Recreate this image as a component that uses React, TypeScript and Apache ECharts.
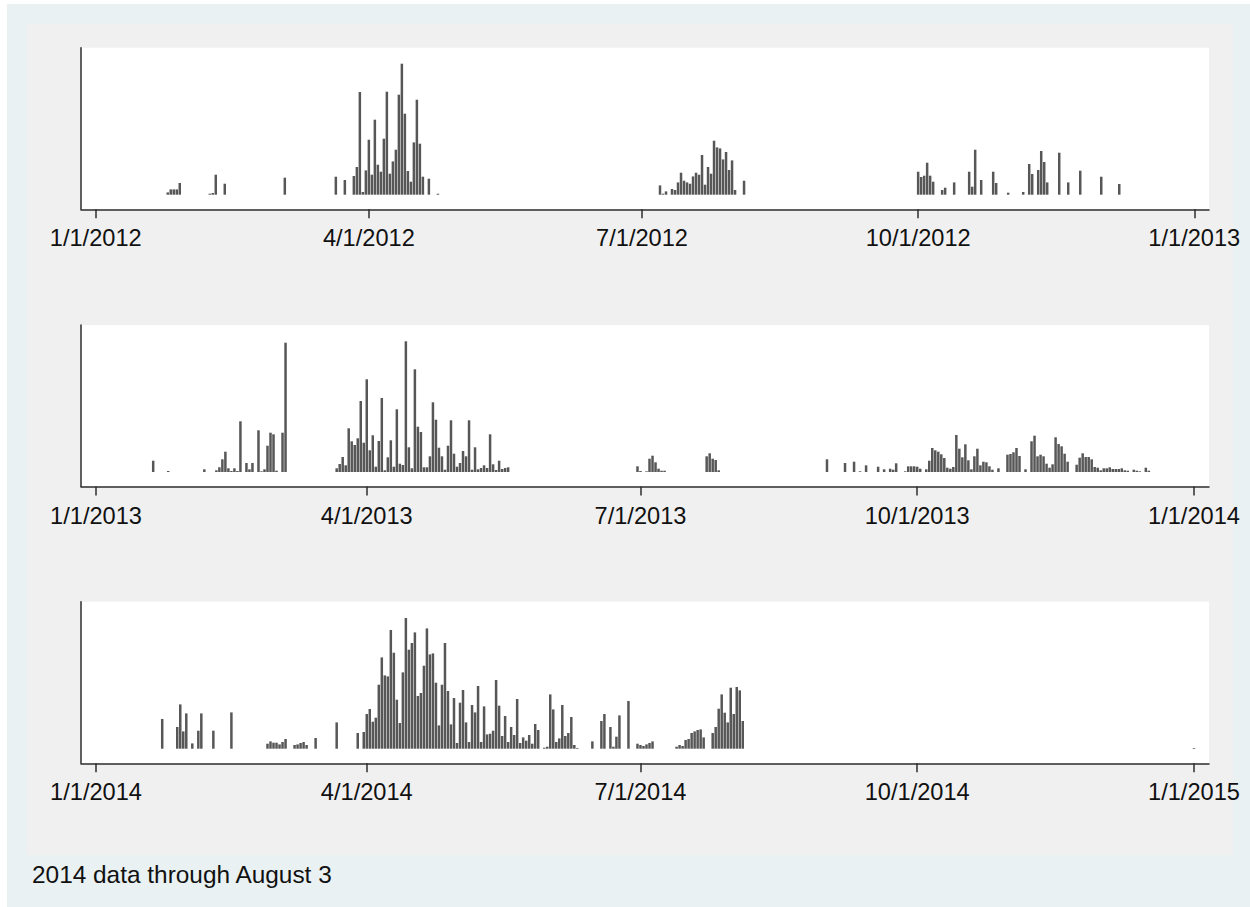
import React, { useEffect, useRef } from "react";
import * as echarts from "echarts";

// ---- Data (day index from Jan 1 of each year; bar height in relative units) ----
const days2012 = [24,25,26,27,28,38,39,40,43,63,80,83,86,87,88,89,90,91,92,93,94,95,96,97,98,99,100,101,102,103,104,105,106,107,108,109,111,114,
  188,189,190,192,193,194,195,196,197,198,199,200,201,202,203,204,205,206,207,208,209,210,211,212,213,216,
  274,275,276,277,278,279,282,283,286,291,292,293,295,299,300,304,309,311,312,314,315,316,317,321,324,328,335,341];
const values2012 = [2.3,5.3,5.3,5.3,11.7,1,1.7,20,11,17,18,14.7,18.7,27.7,102.7,2.7,24.3,55,20,75,30,23,56,103,21,33.3,45,100,131,81,23.7,13,52.3,95,51,18,16,1,
  9.3,1,3.3,5.7,4.7,12.3,22,14,12.3,11,18.3,22,20,39.7,10,27.7,21,54,47.3,46.3,35.3,42.7,24.7,34.3,4.7,14,
  23,17.7,19,32,19,13,4.7,7,12.3,23,8,45,14.7,23,11.7,2,2.7,30.7,20.7,24.7,43.7,32.7,12.3,42,12.3,24,18,10.7];

const days2013 = [19,24,36,40,41,42,43,44,45,46,47,48,50,51,52,54,55,56,57,58,59,60,62,63,
  80,81,82,83,84,85,86,87,88,89,90,91,92,93,94,95,96,97,98,99,100,101,102,103,104,105,106,107,108,109,110,111,112,113,114,115,116,117,118,119,120,121,122,123,124,125,126,127,128,129,130,131,132,133,134,135,136,137,
  180,181,183,184,185,186,187,188,189,203,204,205,206,207,
  243,249,252,254,256,260,262,264,265,266,269,270,271,272,273,274,276,277,278,279,280,281,282,283,284,285,286,287,288,289,290,291,292,293,294,295,296,297,298,300,303,304,305,306,307,309,311,312,313,314,315,316,317,318,319,320,321,322,323,326,327,328,329,330,331,332,333,334,335,336,337,338,339,340,341,342,343,345,346,347,349,350];
const values2013 = [11.3,1,2.7,1.7,4.7,12.7,20.3,3.7,1,3.7,1,50.7,9,2.7,9,41.7,0.7,2.7,26.3,39.3,37.7,1.3,39.3,129.3,
  3.7,8,15,6.7,43.7,30.7,27,33.7,71,29.3,92.7,21.7,36.7,5.3,31,74,1.7,14.7,31.7,5.3,62.7,8.3,7,130.7,24.7,3.7,102.7,45.3,40,4.7,4.7,15.7,69.7,52.3,24.3,15.7,2.3,26.3,51.7,18.3,5.3,9,21,15.7,51.7,2.3,24.7,2.7,4,6.7,4,37.7,7.7,2,11.3,3,4,4.7,
  5.7,1,0.7,13.3,16.3,9.7,3.3,1.3,1.3,15.7,18.7,13.3,12,1.7,
  12.7,9,10.3,0.7,6.7,5.3,2.7,3.3,2.3,8.7,0.7,5.7,5.7,5.7,5.3,3.3,2.7,11.3,24,21.7,20.3,17.7,14,4.3,3.3,5,37,23.3,14.7,27.7,11.7,2.7,15.7,23.3,6.7,10.3,9.7,5.7,2.3,3.7,17.3,18,19.7,24,16,2.7,30.7,36.3,15.7,17.3,15.7,8.3,4.3,7.7,34.7,28,25.7,18.3,10.3,7.3,14.3,18.7,15,15,12.7,5,4.3,1.7,3.7,3.7,4.7,3,3,3,3.7,1.7,1.3,2.3,1.3,0.7,4.3,1.3];

const days2014 = [22,27,28,29,30,32,34,35,39,45,57,58,59,60,61,62,63,66,67,68,69,70,73,80,87,89,90,91,92,93,94,95,96,97,98,99,100,101,102,103,104,105,106,107,108,109,110,111,112,113,114,115,116,117,118,119,120,121,122,123,124,125,126,127,128,129,130,131,132,133,134,135,136,137,138,139,140,141,142,143,144,145,146,147,
  149,150,151,152,153,154,155,156,157,158,159,160,165,168,169,171,172,173,174,177,180,181,182,183,184,185,
  193,194,195,196,197,198,199,200,201,202,205,206,207,208,209,210,211,212,213,214,215,365];
const values2014 = [29.7,21.7,44.3,17.3,35.3,5.3,18,35.3,18,36.3,5,7.3,6,6,4.3,6.7,9.7,3.7,4.3,5.7,6.7,3.7,10.7,26.3,15.7,16.7,34.7,39.7,27,31,64,91.3,73.3,72.3,118.7,96,49,25.7,76.3,130.7,99,105.7,116.3,52.7,55.7,83,120.3,94.3,95.3,66,23.3,64,105.7,57.7,24.3,50.7,5.7,46,58.7,26.3,6.7,43.7,36.3,62.7,6.7,42.3,14.3,15,18,68.7,43,12.7,32.7,6.7,21.7,13.7,49.7,5.7,11.3,8,13.7,5,24.7,18.7,
  1,2,54.3,39.3,6.7,10.3,43.7,12.7,15.7,31.7,3.7,0.7,7.3,27.7,34.7,21.7,2,12,33.3,47.7,5,3.7,2.7,4.3,5.7,7.3,
  2,3.7,2.7,8.7,9.7,15.7,17.3,18.7,19.3,11.3,15.7,21.7,40,54.3,36,26.3,61,34.7,61.7,58.3,27.7,0.7];

const tickDays2012 = [0, 91, 182, 274, 366];
const tickLabels2012 = ["1/1/2012", "4/1/2012", "7/1/2012", "10/1/2012", "1/1/2013"];
const tickDays2013 = [0, 90, 181, 273, 365];
const tickLabels2013 = ["1/1/2013", "4/1/2013", "7/1/2013", "10/1/2013", "1/1/2014"];
const tickDays2014 = [0, 90, 181, 273, 365];
const tickLabels2014 = ["1/1/2014", "4/1/2014", "7/1/2014", "10/1/2014", "1/1/2015"];

const footnote = "2014 data through August 3";

const FONT = "'Liberation Sans', Arial, Helvetica, sans-serif";
const AXIS_COLOR = "#2e2e2e";
const BAR_COLOR = "#575757";

const panels = [
  { top: 47.7, days: days2012, values: values2012, ticks: tickDays2012, labels: tickLabels2012, min: -4.9, max: 370.9 },
  { top: 325, days: days2013, values: values2013, ticks: tickDays2013, labels: tickLabels2013, min: -5, max: 370 },
  { top: 601.7, days: days2014, values: values2014, ticks: tickDays2014, labels: tickLabels2014, min: -5, max: 370 },
];

function buildOption() {
  const grid = panels.map((p) => ({
    left: 81,
    top: p.top,
    width: 1128,
    height: 161.6,
    show: true,
    backgroundColor: "#ffffff",
    borderWidth: 0,
    containLabel: false,
  }));
  const xAxis = panels.map((p, i) => ({
    type: "value",
    gridIndex: i,
    min: p.min,
    max: p.max,
    splitLine: { show: false },
    axisLine: { show: true, onZero: false, lineStyle: { color: AXIS_COLOR, width: 1.5 } },
    axisTick: { show: true, inside: false, length: 9, customValues: p.ticks, lineStyle: { color: AXIS_COLOR, width: 1.5 } },
    axisLabel: {
      show: true,
      customValues: p.ticks,
      margin: 17,
      fontSize: 23.6,
      fontFamily: FONT,
      color: "#111111",
      formatter: (v: number) => {
        const k = p.ticks.indexOf(Math.round(v));
        return k >= 0 ? p.labels[k] : "";
      },
    },
  }));
  const yAxis = panels.map((p, i) => ({
    type: "value",
    gridIndex: i,
    min: -14.6,
    max: 147,
    splitLine: { show: false },
    axisLine: { show: true, onZero: false, lineStyle: { color: AXIS_COLOR, width: 1.5 } },
    axisTick: { show: false },
    axisLabel: { show: false },
  }));
  const series = panels.map((p, i) => ({
    type: "bar",
    xAxisIndex: i,
    yAxisIndex: i,
    barWidth: 2.5,
    silent: true,
    itemStyle: { color: BAR_COLOR },
    data: p.days.map((d, k) => [d, p.values[k]]),
  }));
  return {
    animation: false,
    backgroundColor: "transparent",
    grid,
    xAxis,
    yAxis,
    series,
    graphic: [
      {
        type: "text",
        x: 32,
        y: 874,
        style: {
          text: footnote,
          fontSize: 24.4,
          fontFamily: FONT,
          fill: "#111111",
          align: "left",
          verticalAlign: "middle",
        },
      },
    ],
  };
}

export default function App() {
  const ref = useRef<HTMLDivElement>(null);
  useEffect(() => {
    if (!ref.current) return;
    const chart = echarts.init(ref.current, null, { renderer: "svg" });
    chart.setOption(buildOption() as any);
    return () => chart.dispose();
  }, []);
  return (
    <div style={{ position: "absolute", left: 0, top: 0, width: 1250, height: 907, background: "#ffffff", overflow: "hidden" }}>
      <div style={{ position: "absolute", left: 7, top: 4, width: 1243, height: 903, background: "#e9f1f3" }} />
      <div style={{ position: "absolute", left: 27, top: 24, width: 1206, height: 831, background: "#f0f0f0" }} />
      <div ref={ref} style={{ position: "absolute", left: 0, top: 0, width: 1250, height: 907 }} />
    </div>
  );
}
